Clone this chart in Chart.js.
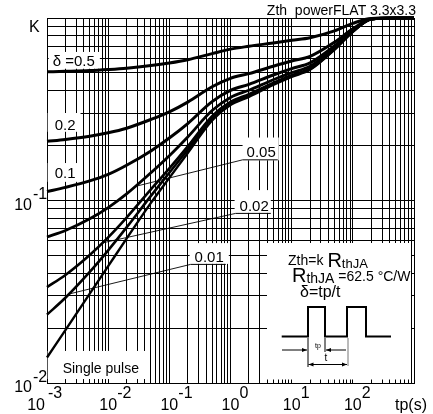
<!DOCTYPE html>
<html>
<head>
<meta charset="utf-8">
<script src="https://cdn.jsdelivr.net/npm/chart.js@4/dist/chart.umd.min.js"></script>
<style>
html, body { margin: 0; padding: 0; background: #fff; }
</style>
</head>
<body>
<canvas id="chart" width="433" height="414"></canvas>
<script>
// pulse length tp (s) and normalised Zth factor K
const tp = [0.001, 0.002, 0.005, 0.01, 0.02, 0.05, 0.1, 0.2, 0.5, 1, 2, 5, 10, 20, 50, 100, 200, 500, 1000];
const k05 = [0.507, 0.510, 0.515, 0.522, 0.531, 0.549, 0.567, 0.591, 0.638, 0.675, 0.70, 0.73, 0.755, 0.78, 0.85, 0.935, 0.995, 1, 1];
const k02 = [0.211, 0.216, 0.225, 0.235, 0.249, 0.278, 0.306, 0.346, 0.42, 0.467, 0.496, 0.544, 0.581, 0.616, 0.736, 0.872, 0.988, 1, 1];
const k01 = [0.112, 0.118, 0.128, 0.139, 0.156, 0.187, 0.22, 0.264, 0.348, 0.401, 0.433, 0.487, 0.528, 0.568, 0.703, 0.856, 0.987, 1, 1];
const k005 = [0.0631, 0.0685, 0.0794, 0.0915, 0.1087, 0.142, 0.176, 0.223, 0.311, 0.367, 0.402, 0.459, 0.502, 0.544, 0.687, 0.848, 0.986, 1, 1];
const k002 = [0.0335, 0.0391, 0.0503, 0.0628, 0.0806, 0.115, 0.150, 0.198, 0.290, 0.347, 0.383, 0.441, 0.486, 0.530, 0.677, 0.843, 0.985, 1, 1];
const k001 = [0.0237, 0.0293, 0.0406, 0.0533, 0.0712, 0.106, 0.142, 0.190, 0.282, 0.341, 0.376, 0.436, 0.481, 0.525, 0.673, 0.842, 0.985, 1, 1];
const kSingle = [0.0138, 0.0195, 0.0309, 0.0437, 0.0618, 0.097, 0.133, 0.182, 0.275, 0.334, 0.37, 0.43, 0.476, 0.52, 0.67, 0.84, 0.985, 1, 1];

// axes
const xDecades = [0.001, 0.01, 0.1, 1, 10, 100];
const yDecades = [0.01, 0.1];
const gridSteps = [1, 2, 3, 4, 5, 6, 7, 8, 9];
const xTickValues = [0.001, 0.01, 0.1, 1, 10, 100];
const xTickExps = ['-3', '-2', '-1', '0', '1', '2'];
const xUnit = 'tp(s)';
const yTickValues = [0.1, 0.01];
const yTickExps = ['-1', '-2'];
const yTopLabel = 'K';
const title = 'Zth  powerFLAT 3.3x3.3';

const FONT = '"Liberation Sans", Arial, sans-serif';

// curve labels, placed in data units (t, K) = left end of text baseline
const notes = [
    {text: 'δ =0.5', t: 0.00124, k: 0.5475, size: 15, pad: [4, 5, 3, 3]},
    {text: '0.2', t: 0.001336, k: 0.244, size: 15, pad: [7, 5, 6, 2]},
    {text: '0.1', t: 0.001336, k: 0.1331, size: 15, pad: [7, 5, 4, 4]},
    {text: '0.05', t: 1.832, k: 0.1724, size: 15, pad: [4, 3, 9, 3], to: [0.0303, 0.1203]},
    {text: '0.02', t: 1.409, k: 0.0877, size: 15, pad: [5, 2, 10, 2], to: [0.00813, 0.0586]},
    {text: '0.01', t: 0.2588, k: 0.04609, size: 15, pad: [5, 5, 8, 2], to: [0.00235, 0.0308]},
    {text: 'Single pulse', t: 0.001804, k: 0.01134, size: 14, pad: [15, 8, 12, 6]}
];

const xGrid = xDecades.flatMap(d => gridSteps.map(s => s * d)).concat([1000]);
const yGrid = yDecades.flatMap(d => gridSteps.map(s => s * d)).concat([1]);

function curve(vals, w) {
    return {
        data: tp.map((t, i) => ({x: t, y: vals[i]})),
        borderColor: '#000',
        borderWidth: w,
        pointRadius: 0,
        fill: false,
        clip: false,
        cubicInterpolationMode: 'monotone'
    };
}

function noteBox(chart, n) {
    const ctx = chart.ctx;
    ctx.font = n.size + 'px ' + FONT;
    const w = ctx.measureText(n.text).width;
    const x = chart.scales.x.getPixelForValue(n.t);
    const y = chart.scales.y.getPixelForValue(n.k);
    const cap = n.size * 0.72;
    return {tx: x, ty: y, tw: w, x: x - n.pad[0], y: y - cap - n.pad[2], w: w + n.pad[0] + n.pad[1], h: cap + n.pad[2] + n.pad[3]};
}

function insetBox(ca) {
    return {left: ca.left + 220, top: ca.top + 225, right: ca.right - 3, bottom: ca.bottom - 3.5};
}

function hArrow(ctx, x1, y, x2) {
    ctx.beginPath();
    ctx.moveTo(x1, y);
    ctx.lineTo(x2, y);
    ctx.stroke();
    const d = x2 > x1 ? -1 : 1;
    ctx.beginPath();
    ctx.moveTo(x2, y);
    ctx.lineTo(x2 + d * 5, y - 2);
    ctx.lineTo(x2 + d * 5, y + 2);
    ctx.closePath();
    ctx.fill();
}

function vLine(ctx, x, y1, y2) {
    ctx.beginPath();
    ctx.moveTo(x, y1);
    ctx.lineTo(x, y2);
    ctx.stroke();
}

const decor = {
    id: 'decor',
    beforeDatasetsDraw(chart) {
        const ctx = chart.ctx;
        ctx.save();
        ctx.fillStyle = '#fff';
        notes.forEach(n => {
            const b = noteBox(chart, n);
            ctx.fillRect(b.x, b.y, b.w, b.h);
        });
        const ib = insetBox(chart.chartArea);
        ctx.fillRect(ib.left, ib.top, ib.right - ib.left, ib.bottom - ib.top);
        ctx.restore();
    },
    afterDatasetsDraw(chart) {
        const ctx = chart.ctx;
        const ca = chart.chartArea;
        const xs = chart.scales.x;
        const ys = chart.scales.y;
        ctx.save();
        ctx.fillStyle = '#000';
        ctx.strokeStyle = '#000';
        ctx.textBaseline = 'alphabetic';

        // curve labels + leader lines
        notes.forEach(n => {
            const b = noteBox(chart, n);
            ctx.font = n.size + 'px ' + FONT;
            ctx.textAlign = 'left';
            ctx.fillText(n.text, b.tx, b.ty);
            if (n.to) {
                const ux = b.tx - 4;
                const uy = b.ty + 2.5;
                ctx.lineWidth = 1;
                ctx.beginPath();
                ctx.moveTo(ux, uy);
                ctx.lineTo(b.tx + b.tw + 2, uy);
                ctx.stroke();
                ctx.lineWidth = 0.9;
                ctx.beginPath();
                ctx.moveTo(ux, uy);
                ctx.lineTo(xs.getPixelForValue(n.to[0]), ys.getPixelForValue(n.to[1]));
                ctx.stroke();
            }
        });

        // inset: formula and pulse train
        const ib = insetBox(ca);
        const L = ib.left, T = ib.top;
        let x = L + 21;
        ctx.textAlign = 'left';
        ctx.font = '14px ' + FONT;
        ctx.fillText('Zth=k', x, T + 22);
        x += ctx.measureText('Zth=k').width + 4;
        ctx.font = '20px ' + FONT;
        ctx.fillText('R', x, T + 23.5);
        x += ctx.measureText('R').width;
        ctx.font = '13px ' + FONT;
        ctx.fillText('thJA', x, T + 25);

        x = L + 25;
        ctx.font = '20px ' + FONT;
        ctx.fillText('R', x, T + 38.5);
        x += ctx.measureText('R').width;
        ctx.font = '14px ' + FONT;
        ctx.fillText('thJA', x, T + 40);
        x += ctx.measureText('thJA').width;
        ctx.font = '14px ' + FONT;
        ctx.fillText(' =62.5 °C/W', x, T + 37.5);

        ctx.font = '16px ' + FONT;
        ctx.fillText('δ=tp/t', L + 33, T + 54);

        ctx.lineWidth = 2;
        ctx.beginPath();
        ctx.moveTo(L + 14.7, T + 93.5);
        ctx.lineTo(L + 41, T + 93.5);
        ctx.lineTo(L + 41, T + 64);
        ctx.lineTo(L + 58, T + 64);
        ctx.lineTo(L + 58, T + 93.5);
        ctx.lineTo(L + 80, T + 93.5);
        ctx.lineTo(L + 80, T + 64);
        ctx.lineTo(L + 99, T + 64);
        ctx.lineTo(L + 99, T + 93.5);
        ctx.lineTo(L + 124, T + 93.5);
        ctx.stroke();

        ctx.lineWidth = 1;
        vLine(ctx, L + 41, T + 95, T + 124);
        vLine(ctx, L + 58, T + 95, T + 109);
        hArrow(ctx, L + 15, T + 107, L + 40);
        hArrow(ctx, L + 79, T + 107, L + 59);
        hArrow(ctx, L + 60, T + 121.5, L + 41.5);
        hArrow(ctx, L + 60, T + 121.5, L + 80);
        ctx.strokeStyle = '#777';
        vLine(ctx, L + 81, T + 95, T + 123);
        ctx.strokeStyle = '#000';
        ctx.textAlign = 'center';
        ctx.font = '7px ' + FONT;
        ctx.fillText('tp', L + 51, T + 105);
        ctx.font = '10px ' + FONT;
        ctx.fillText('t', L + 59, T + 118);

        // axis labels 10^n
        xTickValues.forEach((v, i) => {
            const gx = xs.getPixelForValue(v);
            ctx.font = '16px ' + FONT;
            if (i === 0) {
                ctx.textAlign = 'right';
                ctx.fillText('10', gx - 2, ca.bottom + 27);
                ctx.textAlign = 'left';
                ctx.fillText(xTickExps[i], gx + 1, ca.bottom + 15);
            } else {
                ctx.textAlign = 'center';
                ctx.fillText('10', gx, ca.bottom + 27);
                ctx.textAlign = 'left';
                ctx.fillText(xTickExps[i], gx + 9, ca.bottom + 15);
            }
        });
        ctx.textAlign = 'left';
        ctx.font = '16px ' + FONT;
        ctx.fillText(xUnit, ca.right - 19, ca.bottom + 27);

        yTickValues.forEach((v, i) => {
            const gy = ys.getPixelForValue(v);
            ctx.font = '16px ' + FONT;
            ctx.textAlign = 'right';
            ctx.fillText('10', ca.left - 15, gy + 9);
            ctx.textAlign = 'left';
            ctx.fillText(yTickExps[i], ca.left - 14, gy - 1.5);
        });
        ctx.textAlign = 'left';
        ctx.font = '16px ' + FONT;
        ctx.fillText(yTopLabel, ca.left - 18, ca.top + 14);

        ctx.font = '14px ' + FONT;
        ctx.textAlign = 'right';
        ctx.fillText(title, ca.right + 2, ca.top - 3.5);
        ctx.restore();
    }
};

const gridOpts = {color: '#000', lineWidth: 1, drawTicks: false};

new Chart(document.getElementById('chart'), {
    type: 'line',
    data: {
        datasets: [
            curve(k05, 3),
            curve(k02, 3),
            curve(k01, 3),
            curve(k005, 2.8),
            curve(k002, 2.6),
            curve(k001, 2.6),
            curve(kSingle, 2.4)
        ]
    },
    options: {
        responsive: false,
        animation: false,
        devicePixelRatio: 1,
        layout: {padding: {left: 47, top: 18, right: 19, bottom: 31}},
        plugins: {legend: {display: false}, tooltip: {enabled: false}, title: {display: false}},
        scales: {
            x: {
                type: 'logarithmic', min: 0.001, max: 1000,
                ticks: {display: false},
                grid: gridOpts,
                border: {color: '#000', width: 1},
                afterBuildTicks: s => { s.ticks = xGrid.map(v => ({value: v})); }
            },
            y: {
                type: 'logarithmic', min: 0.01, max: 1,
                ticks: {display: false},
                grid: gridOpts,
                border: {color: '#000', width: 1},
                afterBuildTicks: s => { s.ticks = yGrid.map(v => ({value: v})); }
            }
        }
    },
    plugins: [decor]
});
</script>
</body>
</html>
